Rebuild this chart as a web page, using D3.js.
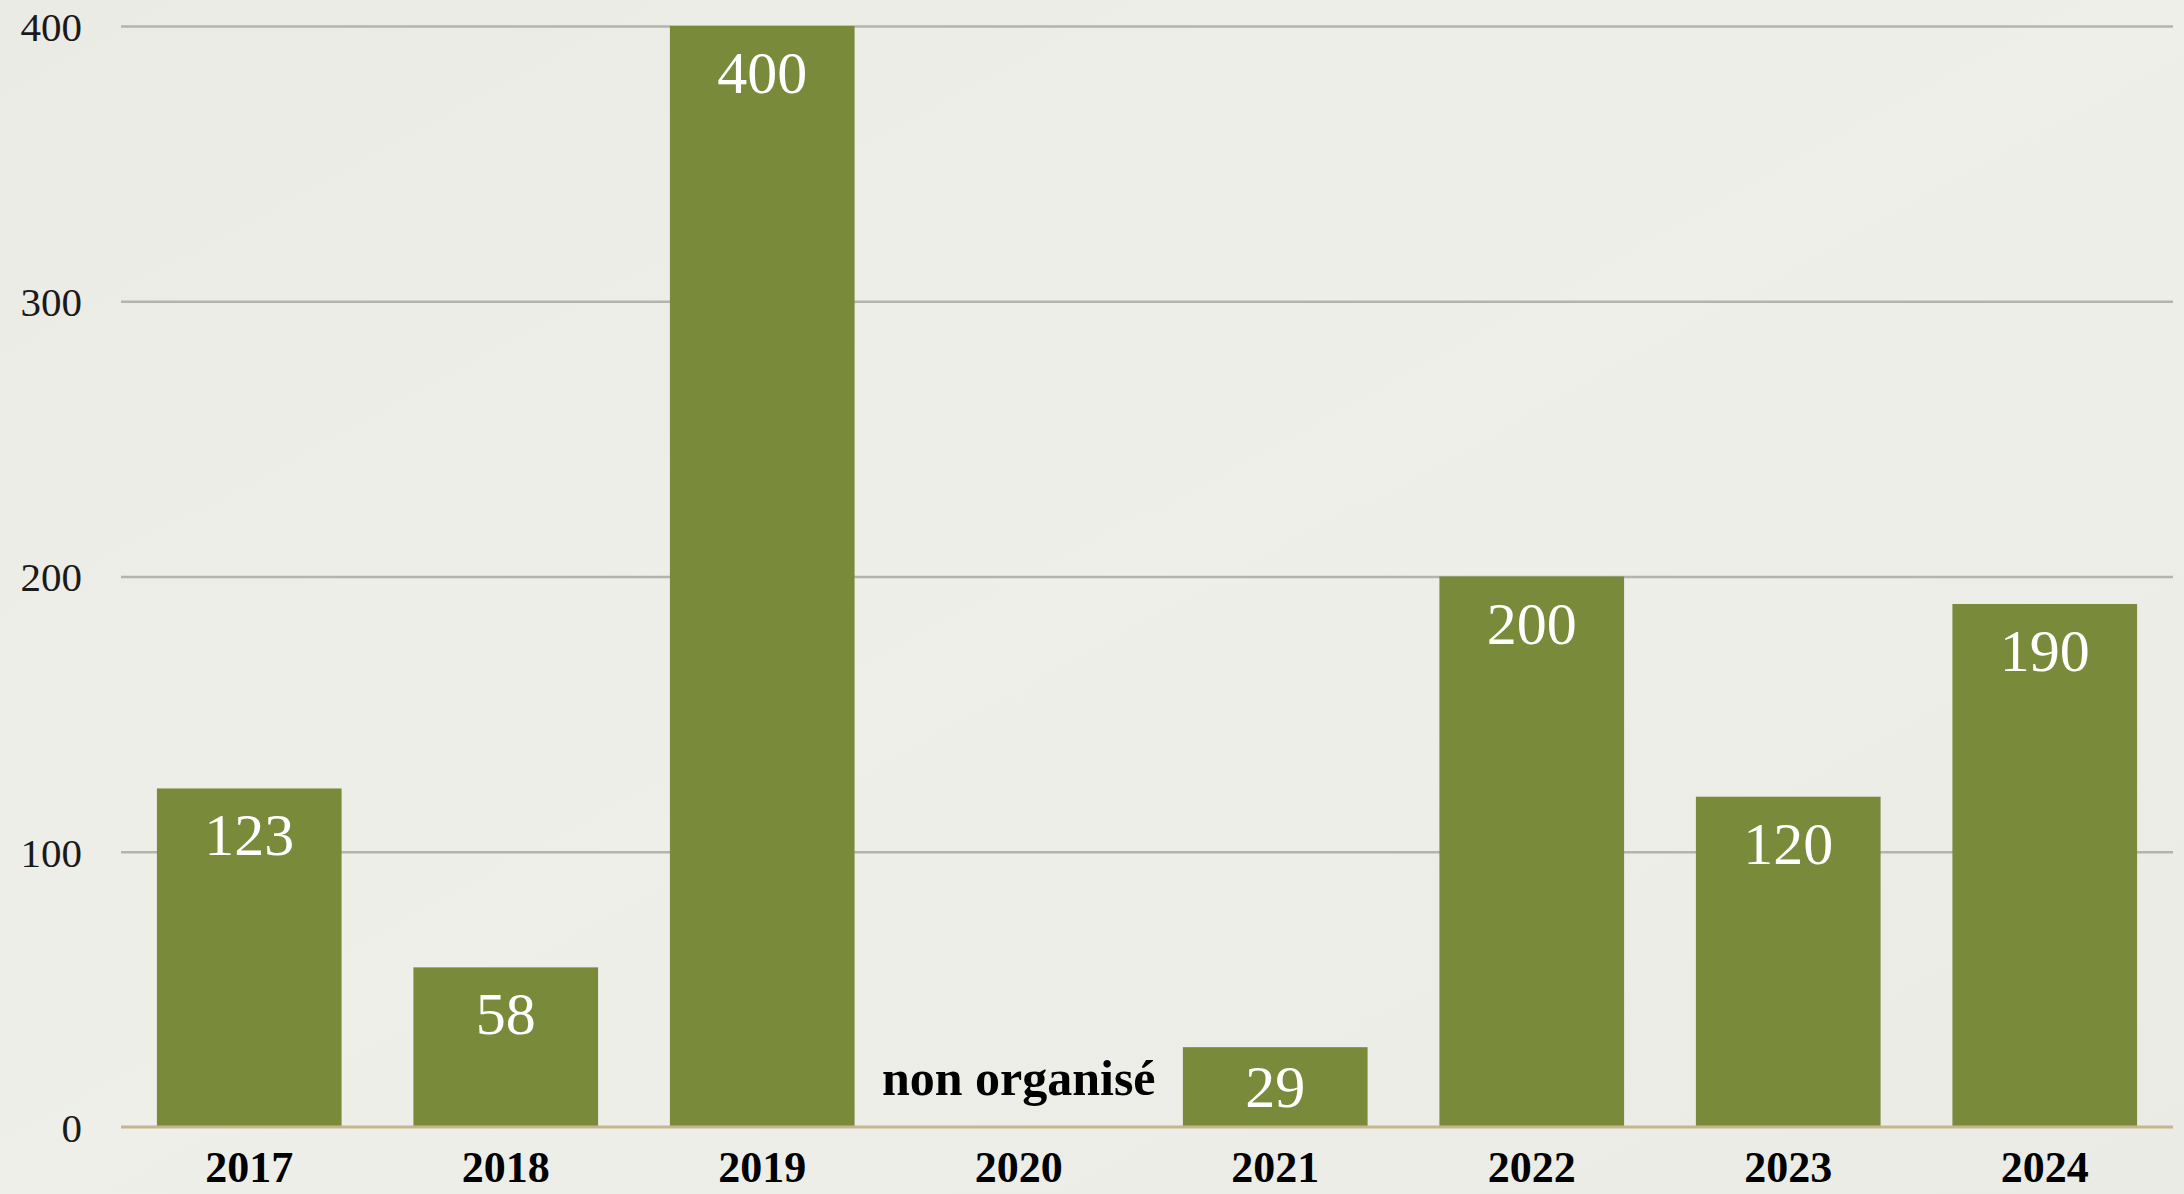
<!DOCTYPE html>
<html><head><meta charset="utf-8">
<script src="https://cdn.jsdelivr.net/npm/d3@7/dist/d3.min.js"></script>
<style>
html,body{margin:0;padding:0;background:#edede7;}
svg{display:block;}
</style></head>
<body>
<svg id="chart" width="2184" height="1194"></svg>
<script>
const categories = ["2017","2018","2019","2020","2021","2022","2023","2024"];
const values = [123, 58, 400, null, 29, 200, 120, 190];
const tickValues = [0, 100, 200, 300, 400];
const missingLabel = "non organisé";

const W = 2184, H = 1194;
const m = {left:121, right:11, top:26, bottom:67};
const svg = d3.select("#chart");

const defs = svg.append("defs");
const grad = defs.append("linearGradient").attr("id","bg").attr("x1",0).attr("y1",0).attr("x2",1).attr("y2",1);
grad.append("stop").attr("offset","0%").attr("stop-color","#ebebe5");
grad.append("stop").attr("offset","50%").attr("stop-color","#efefea");
grad.append("stop").attr("offset","100%").attr("stop-color","#ebebe5");
svg.append("rect").attr("width",W).attr("height",H).attr("fill","url(#bg)");

const x = d3.scaleBand().domain(categories).range([m.left, W - m.right]).paddingInner(0.28).paddingOuter(0.14);
const y = d3.scaleLinear().domain([0,400]).range([H - m.bottom, m.top]);

// gridlines
const yAxis = d3.axisLeft(y).tickValues(tickValues).tickSize(-(W - m.left - m.right)).tickFormat(d3.format("d"));
const gy = svg.append("g").attr("transform",`translate(${m.left},0)`).call(yAxis);
gy.select(".domain").remove();
gy.selectAll(".tick line").attr("stroke","#b4b4ae").attr("stroke-width",2.5)
  .filter(d => d === 0).remove();
gy.selectAll(".tick text").attr("x",-39).attr("dy","0.35em")
  .attr("font-family","'Liberation Serif', 'DejaVu Serif', serif").attr("font-size",41)
  .attr("fill","#1a1a1a").attr("text-anchor","end");

// bars
const data = categories.map((c,i)=>({c, v: values[i]}));
svg.append("g").selectAll("rect").data(data.filter(d=>d.v!==null)).join("rect")
  .attr("x", d=>x(d.c)).attr("width", x.bandwidth())
  .attr("y", d=>y(d.v)).attr("height", d=>y(0)-y(d.v))
  .attr("fill","#7a8a3b");

// baseline
svg.append("line").attr("x1",m.left).attr("x2",W-m.right).attr("y1",y(0)).attr("y2",y(0))
  .attr("stroke","#c6b68e").attr("stroke-width",3);

// value labels
svg.append("g").selectAll("text").data(data.filter(d=>d.v!==null)).join("text")
  .attr("x", d=>x(d.c)+x.bandwidth()/2).attr("y", d=>Math.min(y(d.v)+67, y(0)-20))
  .attr("text-anchor","middle").attr("fill","#ffffff")
  .attr("font-family","'Liberation Serif', 'DejaVu Serif', serif").attr("font-size",60)
  .text(d=>d.v);

// missing label
data.filter(d=>d.v===null).forEach(d=>{
  svg.append("text").attr("x", x(d.c)+x.bandwidth()/2).attr("y", 1095)
    .attr("text-anchor","middle").attr("fill","#000")
    .attr("font-family","'Liberation Serif', serif").attr("font-weight","bold").attr("font-size",50)
    .text(missingLabel);
});

// x axis labels
const xAxis = d3.axisBottom(x).tickSize(0).tickPadding(0);
const gx = svg.append("g").attr("transform",`translate(0,${y(0)})`).call(xAxis);
gx.select(".domain").remove();
gx.selectAll(".tick text").attr("y",55).attr("dy",0)
  .attr("font-family","'Liberation Serif', serif").attr("font-weight","bold").attr("font-size",44)
  .attr("fill","#000");
</script>
</body></html>
